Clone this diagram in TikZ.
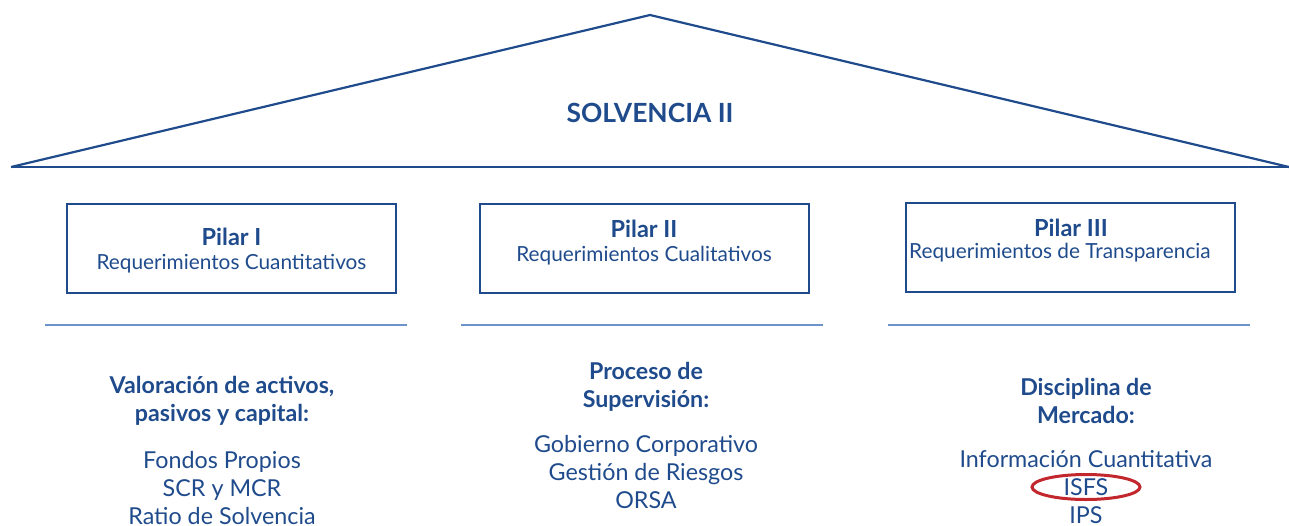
\documentclass[tikz,border=0pt]{standalone}
\usepackage{fontspec}
\setmainfont{Lato}
\usetikzlibrary{positioning}
\definecolor{navy}{HTML}{1F4B8C}
\definecolor{pale}{HTML}{6B93CC}
\definecolor{redmark}{HTML}{C1272D}
\begin{document}
\begin{tikzpicture}[x=1pt, y=-1pt, node distance=6pt,
    pilar/.style={draw=navy, line width=2pt, minimum width=329pt, minimum height=89pt, inner sep=0pt},
    title/.style={text=navy, font=\fontsize{23.5}{28}\selectfont\bfseries},
    sub/.style={text=navy, font=\fontsize{20.8}{24}\selectfont},
    head/.style={text=navy, align=center, font=\fontsize{23.2}{28}\selectfont\bfseries},
    item/.style={text=navy, align=center, font=\fontsize{23.3}{28}\selectfont}]
    \useasboundingbox (0,0) rectangle (1289,525);
          % techo
          \coordinate (left) at (11,167);
          \coordinate (top) at (650,15);
          \coordinate (right) at (1289,167);
          \draw[navy, line width=2.2pt, line join=round] (left) -- (top) -- (right);
          \draw[navy, line width=2.2pt] (left) -- (right);
          \node[text=navy, font=\fontsize{26.4}{30}\selectfont\bfseries] (solv) at (650,113) {SOLVENCIA II};

          % pilares
          \node[pilar] (p1) at (231.5,248.5) {};
          \node[pilar] (p2) at (644,248.5) {};
          \node[pilar] (p3) at (1070,247) {};
          \node[title] (t1) at (231.5,237) {Pilar I};
          \node[sub] (s1) at (231.5,264) {Requerimientos Cuantitativos};
          \node[title] (t2) at (644,229) {Pilar II};
          \node[sub] (s2) at (644,256) {Requerimientos Cualitativos};
          \node[title] (t3) at (1071,228) {Pilar III};
          \node[sub, anchor=west, inner sep=0pt] (s3) at (909,253) {Requerimientos de Transparencia};

          % separadores
          \coordinate (a1) at (45,325);  \coordinate (b1) at (407,325);
          \coordinate (a2) at (461,325); \coordinate (b2) at (823,325);
          \coordinate (a3) at (888,325); \coordinate (b3) at (1250,325);
          \draw[pale, line width=2pt] (a1) -- (b1);
          \draw[pale, line width=2pt] (a2) -- (b2);
          \draw[pale, line width=2pt] (a3) -- (b3);

          % contenido
          \node[head] (h1) at (222,401) {Valoración de activos,\\pasivos y capital:};
          \node[item] (i1) at (222,488) {Fondos Propios\\SCR y MCR\\Ratio de Solvencia};
          \node[head] (h2) at (646,387) {Proceso de\\Supervisión:};
          \node[item] (i2) at (646,472) {Gobierno Corporativo\\Gestión de Riesgos\\ORSA};
          \node[head] (h3) at (1086,401) {Disciplina de\\Mercado:};
          \node[item] (info) at (1086,459) {Información Cuantitativa};
          \node[item] (isfs) at (1086,487) {ISFS};
          \node[item] (ips) at (1086,515) {IPS};
          \draw[redmark, line width=3pt] (isfs.center) ellipse [x radius=54pt, y radius=12.5pt];
    \end{tikzpicture}
\end{document}
